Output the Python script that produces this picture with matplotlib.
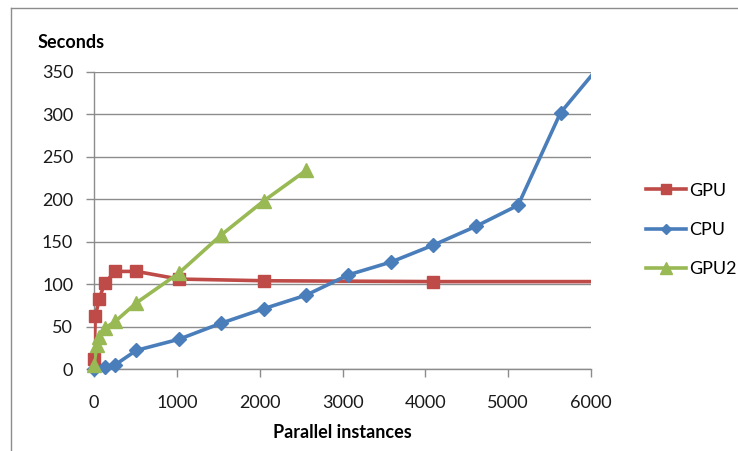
import matplotlib
matplotlib.use("Agg")
import matplotlib.pyplot as plt
from matplotlib.lines import Line2D

plt.rcParams['font.family'] = ['Lato', 'DejaVu Sans']

gpu_x = [1, 16, 64, 128, 256, 512, 1024, 2048, 4096, 8192]
gpu_y = [12, 62, 83, 101, 115, 115, 106, 104, 103, 103]

cpu_x = [1, 128, 256, 512, 1024, 1536, 2048, 2560, 3072, 3584, 4096, 4608, 5120, 5632, 6144]
cpu_y = [0, 2, 5, 22, 35, 54, 71, 87, 111, 126, 146, 168, 193, 302, 362]

gpu2_x = [1, 32, 64, 128, 256, 512, 1024, 1536, 2048, 2560]
gpu2_y = [5, 28, 38, 48, 56, 78, 113, 158, 198, 234]

x_ticks = [0, 1000, 2000, 3000, 4000, 5000, 6000]
y_ticks = [0, 50, 100, 150, 200, 250, 300, 350]

RED = '#BE4B48'
BLUE = '#4A7EBB'
GREEN = '#98B954'
GRID = '#8C8C8C'
XMAX = 6000

fig = plt.figure(figsize=(7.38, 4.51), dpi=100)
ax = fig.add_axes([94/738, 1-369/451, (591-94)/738, (369-72)/451])

series = [
    ('GPU', gpu_x, gpu_y, RED, 's', 9),
    ('CPU', cpu_x, cpu_y, BLUE, 'D', 7),
    ('GPU2', gpu2_x, gpu2_y, GREEN, '^', 10),
]
handles = []
for z, (name, xs, ys, col, mk, ms) in enumerate(series):
    ax.plot(xs, ys, color=col, lw=2.6, zorder=3 + z)
    mx = [x for x in xs if x <= XMAX]
    my = [y for x, y in zip(xs, ys) if x <= XMAX]
    ax.plot(mx, my, ls='none', marker=mk, ms=ms, color=col, clip_on=False, zorder=3 + z)
    handles.append(Line2D([], [], color=col, lw=2.6, marker=mk, ms=ms * 0.8, label=name))

ax.set_xlim(0, XMAX)
ax.set_ylim(0, 350)
ax.set_xticks(x_ticks)
ax.set_yticks(y_ticks)
ax.yaxis.grid(True, color=GRID, lw=1)
ax.set_axisbelow(True)
for s in ['top', 'right']:
    ax.spines[s].set_visible(False)
for s in ['left', 'bottom']:
    ax.spines[s].set_color(GRID)
    ax.spines[s].set_linewidth(1)
ax.tick_params(axis='both', colors=GRID, labelcolor='#1a1a1a', labelsize=13, length=6, width=1, direction='out')
ax.tick_params(axis='x', pad=13)
ax.tick_params(axis='y', pad=9)

ax.set_xlabel('Parallel instances', fontsize=13, fontweight='bold', labelpad=9)
fig.text(38/738, 1-42/451, 'Seconds', fontsize=13, fontweight='bold', va='center', ha='left')

fig.legend(handles=handles, loc='center left', bbox_to_anchor=(630/738, 1-230/451), frameon=False,
           fontsize=13, handlelength=2.2, labelspacing=1.3, handletextpad=0.2)

# outer chart border (left and top)
fig.add_artist(Line2D([11/738, 11/738], [0, 1-8/451], color=GRID, lw=1, transform=fig.transFigure))
fig.add_artist(Line2D([11/738, 1.0], [1-8/451, 1-8/451], color=GRID, lw=1, transform=fig.transFigure))

fig.savefig('out.png', dpi=100)
